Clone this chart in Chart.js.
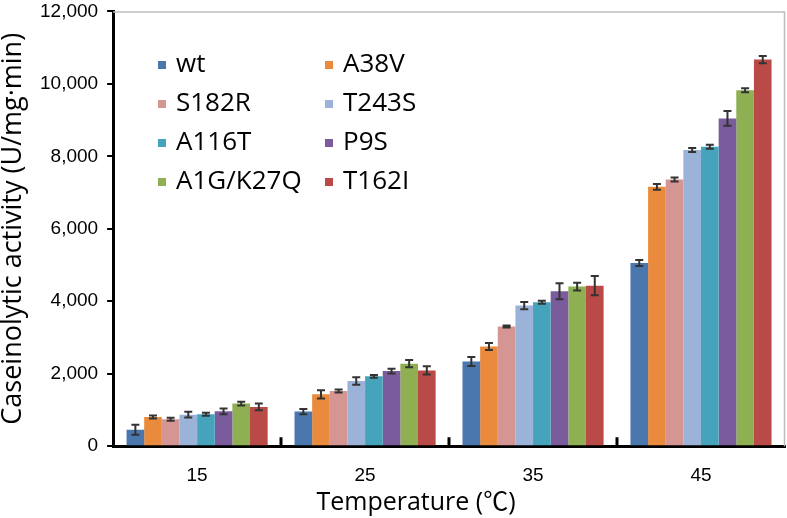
<!DOCTYPE html>
<html>
<head>
<meta charset="utf-8">
<script src="https://cdn.jsdelivr.net/npm/chart.js@4.4.1/dist/chart.umd.min.js"></script>
<style>
  html, body { margin: 0; padding: 0; background: #fff; }
  #wrap { width: 787px; height: 518px; }
</style>
</head>
<body>
<div id="wrap"><canvas id="chart" width="787" height="518"></canvas></div>
<script>
// temperatures (x categories)
const temps = ['15', '25', '35', '45'];
const variants = ['wt', 'A38V', 'S182R', 'T243S', 'A116T', 'P9S', 'A1G/K27Q', 'T162I'];
const colors = ['#4A77AE', '#E98A3C', '#D59593', '#9CB3D9', '#45A3BC', '#7A5C9C', '#8FB052', '#B94A48'];

// activity values per variant, one per temperature
const wt      = [457, 955, 2340, 5056];
const a38v    = [807, 1431, 2752, 7157];
const s182r   = [743, 1523, 3303, 7358];
const t243s   = [871, 1798, 3881, 8175];
const a116t   = [880, 1927, 3972, 8266];
const p9s     = [963, 2073, 4275, 9047];
const a1gk27q = [1175, 2276, 4404, 9826];
const t162i   = [1083, 2092, 4431, 10671];

// error bar half-lengths
const wtErr      = [138, 70, 124, 83];
const a38vErr    = [40, 115, 96, 78];
const s182rErr   = [40, 40, 30, 55];
const t243sErr   = [78, 105, 100, 55];
const a116tErr   = [40, 40, 40, 55];
const p9sErr     = [80, 64, 220, 206];
const a1gk27qErr = [55, 100, 105, 55];
const t162iErr   = [92, 115, 265, 100];

const values = [wt, a38v, s182r, t243s, a116t, p9s, a1gk27q, t162i];
const errors = [wtErr, a38vErr, s182rErr, t243sErr, a116tErr, p9sErr, a1gk27qErr, t162iErr];

const xTitle = 'Temperature (℃)';
const txtFont = 'Open Sans, "Noto Sans CJK KR", sans-serif';
const numFont = '"Liberation Sans", Arial, sans-serif';

// grey frame, small ticks between categories, x title
const framePlugin = {
  id: 'frame',
  beforeDatasetsDraw(chart) {
    const { ctx, chartArea: a } = chart;
    ctx.save();
    ctx.strokeStyle = '#bdbdbd';
    ctx.lineWidth = 1.5;
    ctx.beginPath();
    ctx.moveTo(a.left, a.top + 0.5);
    ctx.lineTo(a.right - 0.5, a.top + 0.5);
    ctx.lineTo(a.right - 0.5, a.bottom);
    ctx.stroke();
    ctx.restore();
  },
  afterDraw(chart) {
    const { ctx, chartArea: a, scales } = chart;
    const x = scales.x;
    const half = (x.getPixelForValue(1) - x.getPixelForValue(0)) / 2;
    ctx.save();
    ctx.strokeStyle = '#000';
    ctx.lineWidth = 3;
    ctx.beginPath();
    for (let i = 1; i < temps.length; i++) {
      const px = Math.round(x.getPixelForValue(i) - half);
      ctx.moveTo(px, a.bottom);
      ctx.lineTo(px, a.bottom - 9);
    }
    ctx.stroke();
    // axis title, sits a bit left of centre like the original
    ctx.font = '25px ' + txtFont;
    ctx.fillStyle = '#000';
    ctx.textAlign = 'center';
    ctx.textBaseline = 'middle';
    ctx.fillText(xTitle, 416, 503);
    ctx.restore();
  }
};

// error bars
const errorPlugin = {
  id: 'errbars',
  afterDatasetsDraw(chart) {
    const { ctx, scales } = chart;
    ctx.save();
    ctx.strokeStyle = '#333';
    ctx.lineWidth = 2;
    chart.data.datasets.forEach((ds, di) => {
      const meta = chart.getDatasetMeta(di);
      meta.data.forEach((bar, i) => {
        const v = ds.data[i];
        const e = errors[di][i];
        const y1 = scales.y.getPixelForValue(v - e);
        const y2 = scales.y.getPixelForValue(v + e);
        const cx = bar.x;
        ctx.beginPath();
        ctx.moveTo(cx, y1); ctx.lineTo(cx, y2);
        ctx.moveTo(cx - 4, y1); ctx.lineTo(cx + 4, y1);
        ctx.moveTo(cx - 4, y2); ctx.lineTo(cx + 4, y2);
        ctx.stroke();
      });
    });
    ctx.restore();
  }
};

// legend drawn inside plot area, two columns
const legendPlugin = {
  id: 'insideLegend',
  afterDraw(chart) {
    const { ctx } = chart;
    ctx.save();
    ctx.font = '26px ' + txtFont;
    ctx.textBaseline = 'middle';
    chart.data.datasets.forEach((ds, i) => {
      const col = i % 2, row = Math.floor(i / 2);
      const bx = col === 0 ? 158 : 325;
      const by = 65 + row * 39;
      ctx.fillStyle = ds.backgroundColor;
      ctx.fillRect(bx, by - 4, 8, 8);
      ctx.fillStyle = '#000';
      ctx.fillText(ds.label, bx + 18, by);
    });
    ctx.restore();
  }
};

const ctx = document.getElementById('chart').getContext('2d');
const chart = new Chart(ctx, {
  type: 'bar',
  data: {
    labels: temps,
    datasets: variants.map((name, i) => ({
      label: name,
      data: values[i],
      backgroundColor: colors[i],
      borderWidth: 0,
      categoryPercentage: 0.84,
      barPercentage: 1.0
    }))
  },
  options: {
    responsive: false,
    animation: false,
    layout: { padding: { left: 0, right: 2, top: 0, bottom: 13 } },
    plugins: {
      legend: { display: false },
      tooltip: { enabled: false }
    },
    scales: {
      x: {
        grid: { display: false, drawTicks: false },
        border: { color: '#000', width: 3 },
        ticks: { color: '#000', padding: 18, font: { family: numFont, size: 19 } }
      },
      y: {
        min: 0,
        max: 12000,
        ticks: {
          stepSize: 2000,
          color: '#000',
          padding: 9,
          font: { family: numFont, size: 19, lineHeight: 0.25 },
          callback: v => v.toLocaleString('en-US')
        },
        grid: { drawOnChartArea: false, color: '#000', tickLength: 6, lineWidth: 2 },
        border: { color: '#000', width: 3 },
        title: {
          display: true,
          text: 'Caseinolytic activity (U/mg·min)',
          color: '#000',
          padding: { top: 0, bottom: 4 },
          font: { family: txtFont, size: 27, lineHeight: 1 }
        }
      }
    }
  },
  plugins: [framePlugin, errorPlugin, legendPlugin]
});
</script>
</body>
</html>
